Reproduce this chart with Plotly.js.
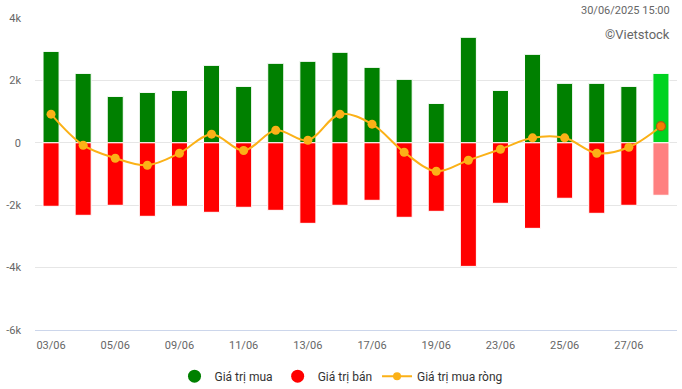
<!DOCTYPE html>
<html>
<head>
<meta charset="utf-8">
<script src="https://cdn.plot.ly/plotly-3.0.1.min.js"></script>
<style>html,body{margin:0;padding:0;background:#fff;}#chart{width:682px;height:389px;}</style>
</head>
<body>
<div id="chart"></div>
<script>
const dates = ["03/06","04/06","05/06","06/06","09/06","10/06","11/06","12/06","13/06","16/06",
               "17/06","18/06","19/06","20/06","23/06","24/06","25/06","26/06","27/06","30/06"];
const buyValues = [2930,2225,1487,1615,1680,2482,1808,2547,2611,2900,
                   2418,2033,1262,3381,1680,2835,1905,1905,1808,2225];
const sellValues = [-2035,-2324,-2003,-2356,-2035,-2228,-2067,-2164,-2581,-2003,
                    -1843,-2388,-2196,-3961,-1939,-2742,-1778,-2260,-2003,-1682];
const netValues = [918,-77,-494,-719,-334,276,-247,404,83,918,
                   597,-302,-912,-559,-205,160,160,-334,-141,533];
const yTickVals = [-6000,-4000,-2000,0,2000,4000];
const yTickText = ["-6k","-4k","-2k","0","2k","4k"];
const seriesNames = ["Giá trị mua","Giá trị bán","Giá trị mua ròng"];
const stampText = "30/06/2025 15:00";
const creditText = "©Vietstock";

const last = dates.length - 1;
const buyColors = buyValues.map((v,i)=> i===last ? "#00d320" : "#008000");
const sellColors = sellValues.map((v,i)=> i===last ? "#ff8080" : "#ff0000");
const netMarkerColors = netValues.map((v,i)=> i===last ? "#f57c00" : "#fbb117");
const netMarkerLine = netValues.map((v,i)=> i===last ? "#b05a10" : "#fbb117");
const netMarkerLineW = netValues.map((v,i)=> i===last ? 1.2 : 0);

const font = "Roboto, 'Noto Sans', Arial, sans-serif";

const traces = [
  {type:"bar", x:dates, y:buyValues, name:seriesNames[0], showlegend:false,
   marker:{color:buyColors, line:{color:"#ffffff", width:1}}, hoverinfo:"y"},
  {type:"bar", x:dates, y:sellValues, name:seriesNames[1], showlegend:false,
   marker:{color:sellColors, line:{color:"#ffffff", width:1}}, hoverinfo:"y"},
  {type:"scatter", mode:"lines+markers", x:dates, y:netValues, name:seriesNames[2], showlegend:false,
   line:{color:"#fbb117", width:2, shape:"spline", smoothing:1},
   marker:{size:9, color:netMarkerColors, line:{color:netMarkerLine, width:netMarkerLineW}}},
  {type:"scatter", mode:"markers", x:[dates[0]], y:[null], name:seriesNames[0],
   marker:{symbol:"circle", size:13, color:"#008000"}},
  {type:"scatter", mode:"markers", x:[dates[0]], y:[null], name:seriesNames[1],
   marker:{symbol:"circle", size:13, color:"#ff0000"}},
  {type:"scatter", mode:"lines+markers", x:[dates[0]], y:[null], name:seriesNames[2],
   line:{color:"#fbb117", width:2}, marker:{size:8, color:"#fbb117"}}
];

// plot area in pixels: left 35, right 677, top 18, bottom 330
const plotTop = 18, plotBottom = 330, plotLeft = 35, plotRight = 677;
const px2py = (y) => (plotBottom - y) / (plotBottom - plotTop);
const px2px = (x) => (x - plotLeft) / (plotRight - plotLeft);

const layout = {
  width:682, height:389,
  margin:{l:plotLeft, r:682-plotRight, t:plotTop, b:389-plotBottom},
  paper_bgcolor:"#ffffff", plot_bgcolor:"#ffffff",
  barmode:"relative", bargap:0.5,
  font:{family:font, size:11, color:"#666666"},
  xaxis:{type:"category", range:[-0.5, dates.length-0.5], tickmode:"linear", tick0:0, dtick:2,
         showgrid:false, zeroline:false, showline:true, linecolor:"#ccd6eb", linewidth:1,
         ticks:"", ticklabelstandoff:5, tickfont:{family:font, size:11, color:"#666666"},
         fixedrange:true},
  yaxis:{range:[-6000,4000], tickmode:"array", tickvals:yTickVals, ticktext:yTickText,
         showgrid:true, gridcolor:"#e6e6e6", gridwidth:1, zeroline:false, showline:false,
         ticks:"", ticklabelstandoff:13, tickfont:{family:font, size:11, color:"#666666"},
         fixedrange:true},
  showlegend:true,
  legend:{orientation:"h", xref:"container", yref:"container", x:0.5, xanchor:"center",
          y:0.033, yanchor:"middle", font:{family:font, size:12, color:"#333333"},
          itemsizing:"trace", bgcolor:"rgba(0,0,0,0)", traceorder:"normal"},
  annotations:[
    {xref:"paper", yref:"paper", x:px2px(672), y:px2py(10), xanchor:"right", yanchor:"middle",
     text:stampText, showarrow:false, font:{family:font, size:11, color:"#666666"}},
    {xref:"paper", yref:"paper", x:px2px(672), y:px2py(34), xanchor:"right", yanchor:"middle",
     text:creditText, showarrow:false, font:{family:font, size:13, color:"#666666"}}
  ]
};

Plotly.newPlot("chart", traces, layout, {displayModeBar:false, staticPlot:true});
</script>
</body>
</html>
